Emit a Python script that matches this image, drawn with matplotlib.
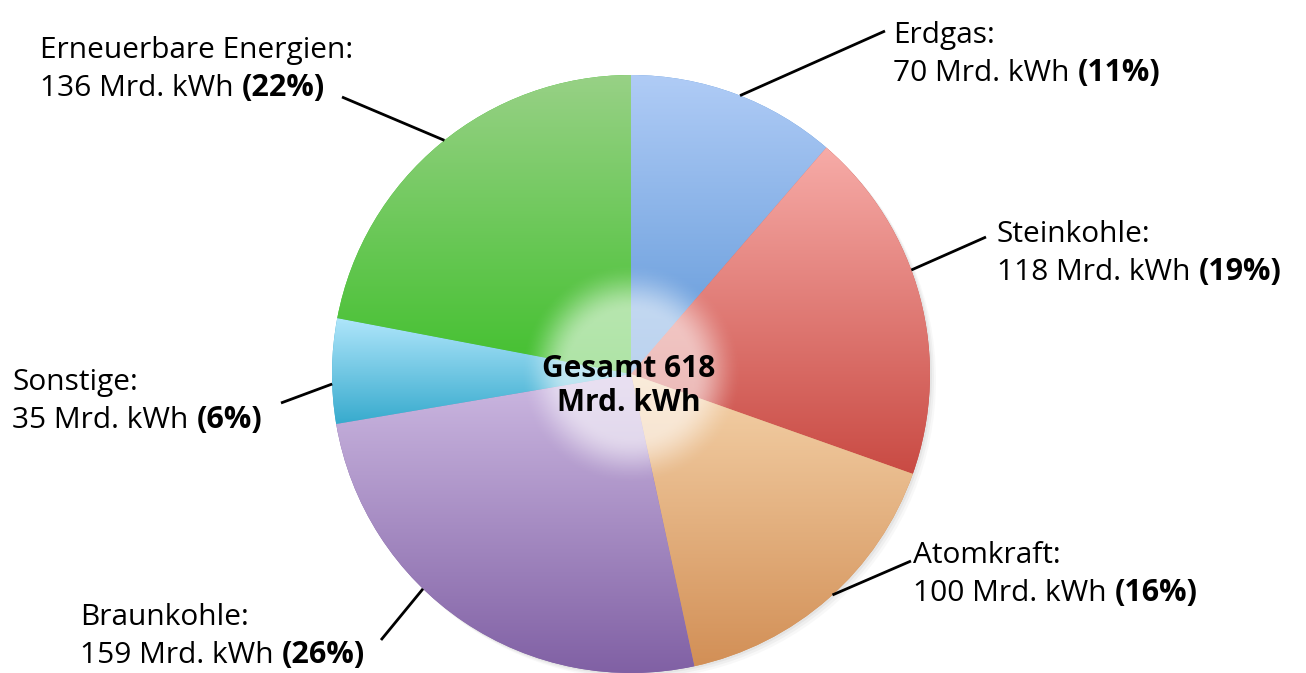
import numpy as np
import matplotlib
matplotlib.use("Agg")
import matplotlib.pyplot as plt
from matplotlib.colors import to_rgb

# ---- data ----
categories = ["Erdgas", "Steinkohle", "Atomkraft", "Braunkohle", "Sonstige", "Erneuerbare Energien"]
values = [70, 118, 100, 159, 35, 136]
percent_labels = ["11%", "19%", "16%", "26%", "6%", "22%"]
total_label = "Gesamt 618\nMrd. kWh"
unit = "Mrd. kWh"

# ---- style ----
top_colors = ["#b0ccf6", "#f7aca8", "#f5d3aa", "#cdb9e2", "#b0e6fb", "#98d186"]
bottom_colors = ["#5f97d8", "#c94a43", "#d28f56", "#8060a4", "#36aacd", "#42c02e"]
# label anchor (image px: x, first baseline y), leader start (image px), angle tweak
label_pos = [(893, 43), (997, 242), (913, 563), (80, 625), (12, 390), (40, 58)]
leader_start = [(885, 31), (986, 237), (911, 561), (381, 640), (281, 403), (342, 97)]
angle_tweak = [-1, 5.5, 1, -10, 2.5, -1]

W, H = 1306, 673
FONT = "Open Sans"
FS = 21.5
cx, cy_img, R = 631, 374, 299

fig = plt.figure(figsize=(W / 100, H / 100), dpi=100)
ax = fig.add_axes([0, 0, 1, 1])

def Y(y):
    return H - y

cy = Y(cy_img)

# subtle shadow
for k, a in [(6, 0.05), (4, 0.07), (2, 0.09)]:
    ax.add_patch(plt.Circle((cx + k, cy - k), R, color="#808080", alpha=a, lw=0, zorder=0))

wedges, _ = ax.pie(values, startangle=90, counterclock=False, radius=R,
                   center=(cx, cy), colors=bottom_colors,
                   wedgeprops=dict(linewidth=0))

for i, w in enumerate(wedges):
    th = np.radians(np.linspace(w.theta1, w.theta2, 200))
    ys = np.concatenate([[cy], cy + R * np.sin(th)])
    xs = np.concatenate([[cx], cx + R * np.cos(th)])
    y0, y1 = ys.min(), ys.max()
    x0, x1 = xs.min(), xs.max()
    t = np.linspace(0, 1, 256)[:, None]  # row 0 = top
    c_top = np.array(to_rgb(top_colors[i]))
    c_bot = np.array(to_rgb(bottom_colors[i]))
    grad = c_top[None, None, :] * (1 - t[..., None]) + c_bot[None, None, :] * t[..., None]
    grad = np.repeat(grad, 2, axis=1)
    im = ax.imshow(grad, extent=(x0 - 1, x1 + 1, y0 - 1, y1 + 1), origin="upper",
                   aspect="auto", interpolation="bilinear", zorder=2)
    im.set_clip_path(w)

# central white glow
gx = np.linspace(-130, 130, 261)
GX, GY = np.meshgrid(gx, gx)
rr = np.sqrt(GX ** 2 + GY ** 2)
s = np.clip((112 - rr) / 50.0, 0, 1)
alpha = 0.58 * s * s * (3 - 2 * s)
glow = np.ones((261, 261, 4))
glow[..., 3] = alpha
ax.imshow(glow, extent=(cx - 130, cx + 130, cy - 130, cy + 130), origin="upper",
          aspect="auto", interpolation="bilinear", zorder=3)

ax.text(cx - 2, Y(386), total_label, ha="center", va="center", fontsize=FS,
        fontweight="bold", family=FONT, color="black", linespacing=1.15, zorder=5)

# labels
for i, w in enumerate(wedges):
    lx, ly = label_pos[i]
    ax.text(lx, Y(ly), categories[i] + ":", ha="left", va="baseline",
            fontsize=FS, family=FONT, color="black", zorder=5)
    t2 = ax.text(lx, Y(ly + 38), f"{values[i]} {unit}", ha="left", va="baseline",
                 fontsize=FS, family=FONT, color="black", zorder=5)
    ax.annotate(f"({percent_labels[i]})", xy=(1, 0), xycoords=t2,
                xytext=(6, 0), textcoords="offset points", ha="left", va="bottom",
                fontsize=FS + 0.5, family=FONT, fontweight="bold", color="black", zorder=5)
    mid = np.radians((w.theta1 + w.theta2) / 2 + angle_tweak[i])
    ex, ey = cx + R * np.cos(mid), cy + R * np.sin(mid)
    sx, sy = leader_start[i]
    ax.plot([sx, ex], [Y(sy), ey], color="black", lw=2, solid_capstyle="butt", zorder=6)

ax.set_xlim(0, W)
ax.set_ylim(0, H)
ax.set_aspect("auto")
ax.axis("off")
fig.savefig("out.png", dpi=100, facecolor="white")
